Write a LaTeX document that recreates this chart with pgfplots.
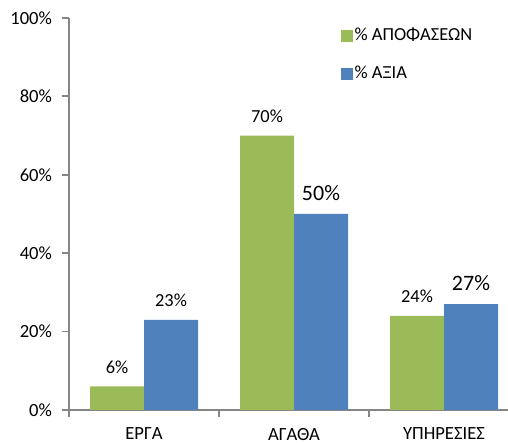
\documentclass[border=0pt]{standalone}
\usepackage{pgfplots}
\pgfplotsset{compat=1.18}
\usepackage{fontspec}
\setmainfont{Carlito}
\definecolor{cgreen}{HTML}{9BBB59}
\definecolor{cblue}{HTML}{4F81BD}
\definecolor{axgray}{HTML}{868686}
\newcommand\lblfont{\ifnum\isbig>0 \fontsize{11}{13}\selectfont\else\fontsize{9.2}{11}\selectfont\fi}
\begin{document}
\begin{tikzpicture}
\begin{axis}[
  name=ax,
  scale only axis,
  width=219.5pt, height=196pt,
  ybar=0pt, bar width=27pt,
  xmin=-0.5, xmax=2.4267,
  ymin=0, ymax=100,
  ytick={0,20,40,60,80,100},
  yticklabel={\pgfmathprintnumber{\tick}\%},
  xtick={0,1,2},
  xticklabels={ΕΡΓΑ,ΑΓΑΘΑ,ΥΠΗΡΕΣΙΕΣ},
  minor xtick={-0.5,0.5,1.5},
  axis x line*=bottom, axis y line*=left,
  axis line style={axgray, line width=0.9pt},
  x axis line style={-}, y axis line style={-},
  major x tick style={draw=none},
  minor x tick style={axgray, line width=0.9pt},
  ytick style={axgray, line width=0.9pt},
  tick align=outside,
  major tick length=3.5pt, minor tick length=3.5pt,
  tick label style={font=\fontsize{9.3}{11}\selectfont, text=black},
  /pgf/number format/assume math mode=true,
  xticklabel style={yshift=-2pt},
  yticklabel style={xshift=-1.5pt},
  nodes near coords={\pgfmathprintnumber{\pgfplotspointmeta}\%},
  visualization depends on=value \thisrow{big}\as\isbig,
  every node near coord/.append style={font=\lblfont, text=black, yshift=3pt},
  legend style={draw=none, fill=none, at={(rel axis cs:0.605,0.99)}, anchor=north west,
    font=\fontsize{9.2}{11}\selectfont, row sep=9.5pt,
    nodes={inner sep=0.8pt}},
  legend cell align=left,
  legend image code/.code={\fill[#1] (0pt,-3pt) rectangle (6pt,3pt);},
]
\addplot[fill=cgreen, draw=none] table[x=x,y=y] {
x y big
0 6 0
1 70 0
2 24 0
};
\addplot[fill=cblue, draw=none] table[x=x,y=y] {
x y big
0 23 0
1 50 1
2 27 1
};
\legend{\% ΑΠΟΦΑΣΕΩΝ, \% ΑΞΙΑ}
\end{axis}
\pgfresetboundingbox
\path ([xshift=-34.5pt,yshift=-16.5pt]ax.south west) rectangle ([yshift=9pt]ax.north east);
\end{tikzpicture}
\end{document}
